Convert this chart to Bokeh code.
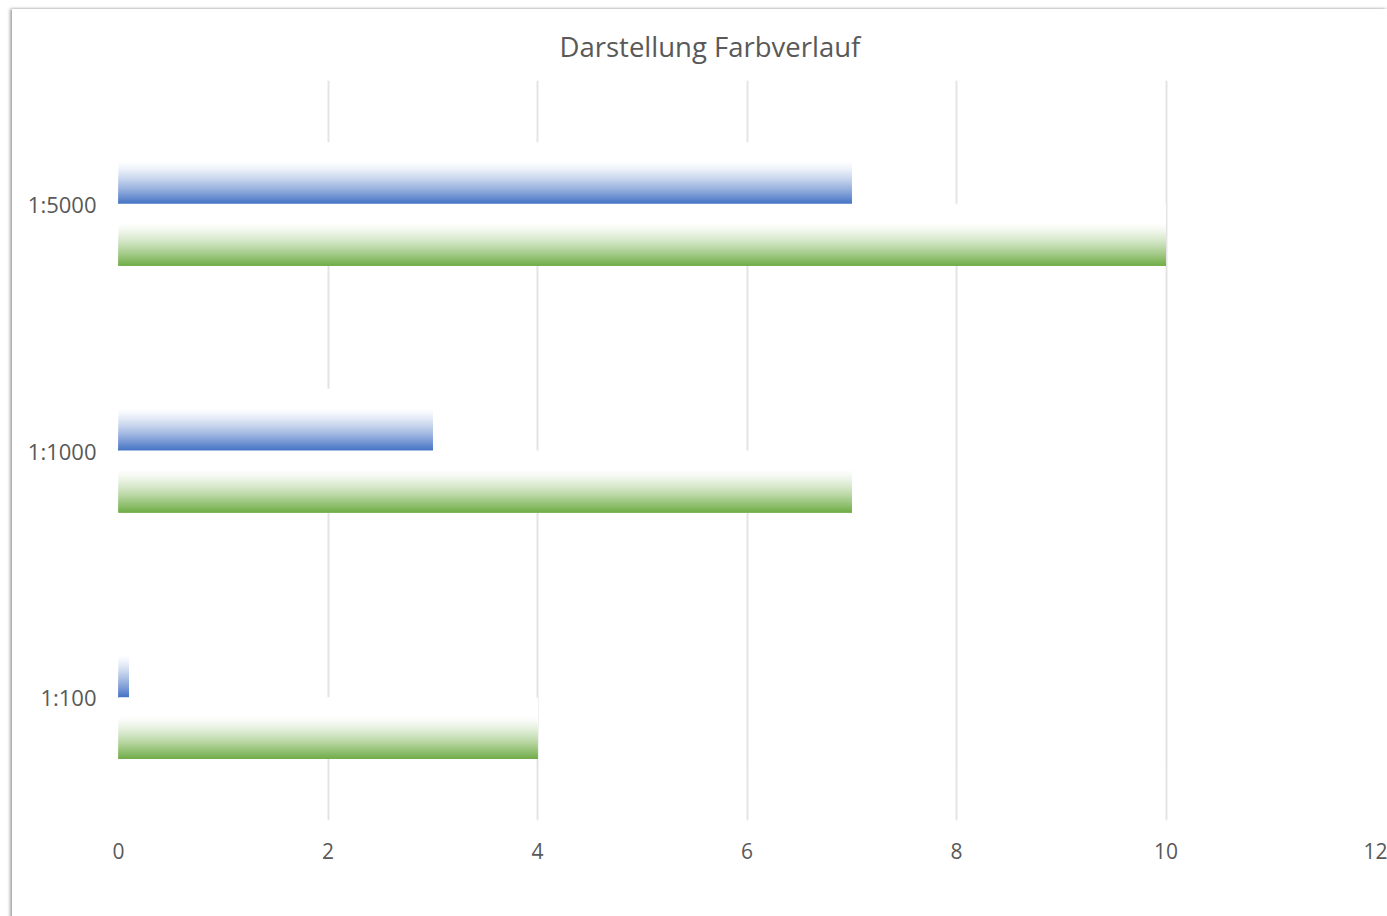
import numpy as np
from bokeh.plotting import figure
from bokeh.models import ColumnDataSource, FixedTicker, Legend, LegendItem
from bokeh.embed import file_html
from bokeh.resources import INLINE

# Chart data (categories listed top to bottom)
categories = ["1:5000", "1:1000", "1:100"]
version_12 = [7, 3, 0.1]
version_11 = [10, 7, 4]
x_ticks = [0, 2, 4, 6, 8, 10, 12]
series_names = ["Version 12", "Version 11"]
series_colors = ["#4472C4", "#70AD47"]

FONT = "Open Sans"
TEXT_COLOR = "#595959"
BAR_H = 0.25      # bar thickness in category units
STEPS = 60        # strips per bar used to build the vertical colour fade


def gradient_source(values, color, top_offset):
    """Split every bar into stacked layers that fade from white (top) to the full colour (bottom).

    Every layer reaches down to the bar's bottom edge and later layers are drawn over
    earlier ones, so the fade has no seams between strips.
    """
    rgb = np.array([int(color[i:i + 2], 16) for i in (1, 3, 5)], dtype=float)
    n = len(values)
    data = dict(left=[], right=[], top=[], bottom=[], fill=[])
    for i, v in enumerate(values):
        center = n - i - 0.5
        bar_top = center + top_offset
        bar_bottom = bar_top - BAR_H
        for k in range(STEPS):
            f = (k + 0.5) / STEPS
            a = np.clip((f - 0.3) / 0.7, 0, 1) ** 1.4
            c = 255 + (rgb - 255) * a
            data["left"].append(0)
            data["right"].append(v)
            data["top"].append(bar_top - k * BAR_H / STEPS)
            data["bottom"].append(bar_bottom)
            data["fill"].append("#%02x%02x%02x" % tuple(int(round(x)) for x in c))
    return ColumnDataSource(data)


p = figure(frame_width=1257, frame_height=740, x_range=(0, 12), y_range=(0, len(categories)),
           output_backend="svg", toolbar_location=None,
           min_border_left=106, min_border_right=12, min_border_top=71, min_border_bottom=0,
           background_fill_color="white", border_fill_color="white")
p.styles = {"margin-left": "12px", "margin-top": "9px",
            "box-shadow": "-2px 0px 3px rgba(0,0,0,0.35), 0px -1px 2px rgba(0,0,0,0.08)"}
p.outline_line_color = None

p.title.text = "Darstellung Farbverlauf"
p.title.text_font = FONT
p.title.text_font_size = "27.5px"
p.title.text_font_style = "normal"
p.title.text_color = TEXT_COLOR
p.title.align = "left"
p.title.offset = 441
p.title.standoff = 31

src12 = gradient_source(version_12, series_colors[0], BAR_H)
src11 = gradient_source(version_11, series_colors[1], 0)
r12 = p.quad(left="left", right="right", top="top", bottom="bottom", source=src12,
             fill_color="fill", line_color=None)
r11 = p.quad(left="left", right="right", top="top", bottom="bottom", source=src11,
             fill_color="fill", line_color=None)

p.ygrid.visible = False
p.xgrid.grid_line_color = "#e4e4e4"
p.xgrid.grid_line_width = 2

p.xaxis.ticker = FixedTicker(ticks=x_ticks)
p.yaxis.ticker = FixedTicker(ticks=[len(categories) - i - 0.5 for i in range(len(categories))])
p.yaxis.major_label_overrides = {len(categories) - i - 0.5: c for i, c in enumerate(categories)}

for ax in (p.xaxis[0], p.yaxis[0]):
    ax.axis_line_color = None
    ax.major_tick_line_color = None
    ax.minor_tick_line_color = None
    ax.major_tick_out = 0
    ax.major_tick_in = 0
    ax.major_label_text_font = FONT
    ax.major_label_text_color = TEXT_COLOR
p.xaxis.major_label_text_font_size = "21px"
p.yaxis.major_label_text_font_size = "22px"
p.xaxis.major_label_standoff = 22
p.yaxis.major_label_standoff = 22

# Legend below the tick labels; a wide label slot pushes the centred legend a bit to the left
legend = Legend(items=[LegendItem(label=series_names[0], renderers=[r12], index=STEPS - 1),
                       LegendItem(label=series_names[1], renderers=[r11], index=STEPS - 1)],
                orientation="horizontal", location="top_center")
legend.label_text_font = FONT
legend.label_text_font_size = "21px"
legend.label_text_color = TEXT_COLOR
legend.border_line_color = None
legend.background_fill_color = None
legend.glyph_width = 12
legend.glyph_height = 5
legend.label_standoff = 6
legend.padding = 0
legend.margin = 6
try:
    legend.label_width = 167
    legend.spacing = -37
except ValueError:
    legend.label_width = 130
    legend.spacing = 0
p.add_layout(legend, "below")

open("out.html", "w").write(file_html(p, INLINE))
